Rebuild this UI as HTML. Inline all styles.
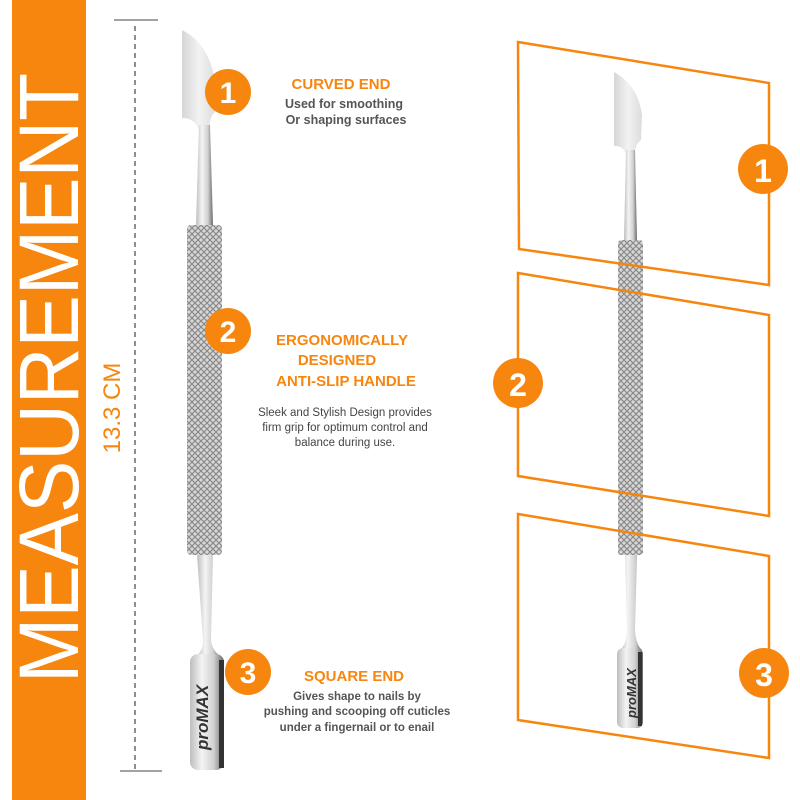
<!DOCTYPE html>
<html><head><meta charset="utf-8"><style>
html,body{margin:0;padding:0;background:#fff}
svg{display:block}
text{font-family:"Liberation Sans",sans-serif}
</style></head><body>
<svg width="800" height="800" viewBox="0 0 800 800" xmlns="http://www.w3.org/2000/svg">
<defs>
<pattern id="kn" width="6" height="6" patternUnits="userSpaceOnUse">
<rect width="6" height="6" fill="#d8d8d8"/>
<path d="M0 0L6 6M6 0L0 6" stroke="#8a8a8a" stroke-width="1.2"/>
</pattern>
<linearGradient id="met" x1="0" x2="1">
<stop offset="0" stop-color="#bdbdbd"/><stop offset="0.35" stop-color="#f4f4f4"/><stop offset="0.7" stop-color="#d0d0d0"/><stop offset="1" stop-color="#6a6a6a"/>
</linearGradient>
<linearGradient id="bl" x1="0" x2="1">
<stop offset="0" stop-color="#d6d6d6"/><stop offset="0.5" stop-color="#f2f2f2"/><stop offset="1" stop-color="#dcdcdc"/>
</linearGradient>
</defs>
<rect x="12" y="0" width="74" height="800" fill="#f7860f"/>
<text transform="translate(78,378) rotate(-90)" text-anchor="middle" font-size="84" fill="#fff" textLength="610" lengthAdjust="spacingAndGlyphs">MEASUREMENT</text>
<line x1="114" y1="20" x2="158" y2="20" stroke="#444" stroke-width="1"/>
<line x1="135" y1="26" x2="135" y2="770" stroke="#444" stroke-width="1.2" stroke-dasharray="5,4"/>
<line x1="120" y1="771" x2="162" y2="771" stroke="#444" stroke-width="1"/>
<text transform="translate(120,408) rotate(-90)" text-anchor="middle" font-size="24" fill="#f7860f">13.3 CM</text>

<!-- left tool -->
<path d="M182 30 Q212 45 216 90 L215 112 Q208 118 210 135 L213 225 L196 225 L199 135 Q199 120 184 118 L182 118 Z" fill="url(#bl)"/>
<path d="M199 125 L210 125 L213 225 L196 225 Z" fill="url(#met)"/>
<rect x="187" y="225" width="35" height="330" rx="4" fill="url(#kn)"/>
<path d="M197 555 L213 555 L211 640 Q212 650 220 656 L197 656 Q204 648 203 640 Z" fill="url(#met)"/>
<rect x="190" y="654" width="34" height="116" rx="8" fill="url(#met)"/>
<rect x="219" y="660" width="5" height="108" fill="#333"/>
<text transform="translate(208,750) rotate(-90)" font-size="17" font-weight="bold" font-style="italic" fill="#333">proMAX</text>

<circle cx="228" cy="92" r="23" fill="#f7860f"/>
<text x="228" y="103" text-anchor="middle" font-size="30" font-weight="bold" fill="#fff">1</text>
<text x="341" y="89" text-anchor="middle" font-size="15" font-weight="bold" fill="#f7860f">CURVED END</text>
<text x="344" y="108" text-anchor="middle" font-size="12.5" font-weight="bold" fill="#555">Used for smoothing</text>
<text x="346" y="124" text-anchor="middle" font-size="12.5" font-weight="bold" fill="#555">Or shaping surfaces</text>

<circle cx="228" cy="331" r="23" fill="#f7860f"/>
<text x="228" y="342" text-anchor="middle" font-size="30" font-weight="bold" fill="#fff">2</text>
<text x="342" y="345" text-anchor="middle" font-size="15" font-weight="bold" fill="#f7860f">ERGONOMICALLY</text>
<text x="337" y="365" text-anchor="middle" font-size="15" font-weight="bold" fill="#f7860f">DESIGNED</text>
<text x="346" y="386" text-anchor="middle" font-size="15" font-weight="bold" fill="#f7860f">ANTI-SLIP HANDLE</text>
<text x="345" y="416" text-anchor="middle" font-size="11.5" fill="#444">Sleek and Stylish Design provides</text>
<text x="345" y="431" text-anchor="middle" font-size="11.5" fill="#444">firm grip for optimum control and</text>
<text x="345" y="446" text-anchor="middle" font-size="11.5" fill="#444">balance during use.</text>

<circle cx="248" cy="672" r="23" fill="#f7860f"/>
<text x="248" y="683" text-anchor="middle" font-size="30" font-weight="bold" fill="#fff">3</text>
<text x="354" y="681" text-anchor="middle" font-size="15" font-weight="bold" fill="#f7860f">SQUARE END</text>
<text x="357" y="700" text-anchor="middle" font-size="11.5" font-weight="bold" fill="#555">Gives shape to nails by</text>
<text x="357" y="715" text-anchor="middle" font-size="11.5" font-weight="bold" fill="#555">pushing and scooping off cuticles</text>
<text x="357" y="731" text-anchor="middle" font-size="11.5" font-weight="bold" fill="#555">under a fingernail or to enail</text>

<!-- right tool -->
<path d="M614 72 Q638 85 642 115 L641 140 Q634 145 635 158 L637 240 L624 240 L626 158 Q626 147 616 146 L614 146 Z" fill="url(#bl)"/>
<path d="M626 150 L635 150 L637 240 L624 240 Z" fill="url(#met)"/>
<rect x="618" y="240" width="25" height="315" rx="3" fill="url(#kn)"/>
<path d="M625 555 L637 555 L635 630 Q636 645 642 650 L620 650 Q627 644 627 630 Z" fill="url(#met)"/>
<rect x="617" y="648" width="26" height="80" rx="6" fill="url(#met)"/>
<rect x="638" y="652" width="4" height="74" fill="#333"/>
<text transform="translate(636,718) rotate(-90)" font-size="13" font-weight="bold" font-style="italic" fill="#333">proMAX</text>

<g fill="none" stroke="#f7860f" stroke-width="2.5">
<path d="M518 42 L769 83 L769 285 L519 249 Z"/>
<path d="M518 273 L769 315 L769 516 L518 476 Z"/>
<path d="M518 514 L769 556 L769 758 L518 720 Z"/>
</g>
<circle cx="763" cy="169" r="25" fill="#f7860f"/>
<text x="763" y="182" text-anchor="middle" font-size="32" font-weight="bold" fill="#fff">1</text>
<circle cx="518" cy="383" r="25" fill="#f7860f"/>
<text x="518" y="396" text-anchor="middle" font-size="32" font-weight="bold" fill="#fff">2</text>
<circle cx="764" cy="673" r="25" fill="#f7860f"/>
<text x="764" y="686" text-anchor="middle" font-size="32" font-weight="bold" fill="#fff">3</text>
</svg>
</body></html>
